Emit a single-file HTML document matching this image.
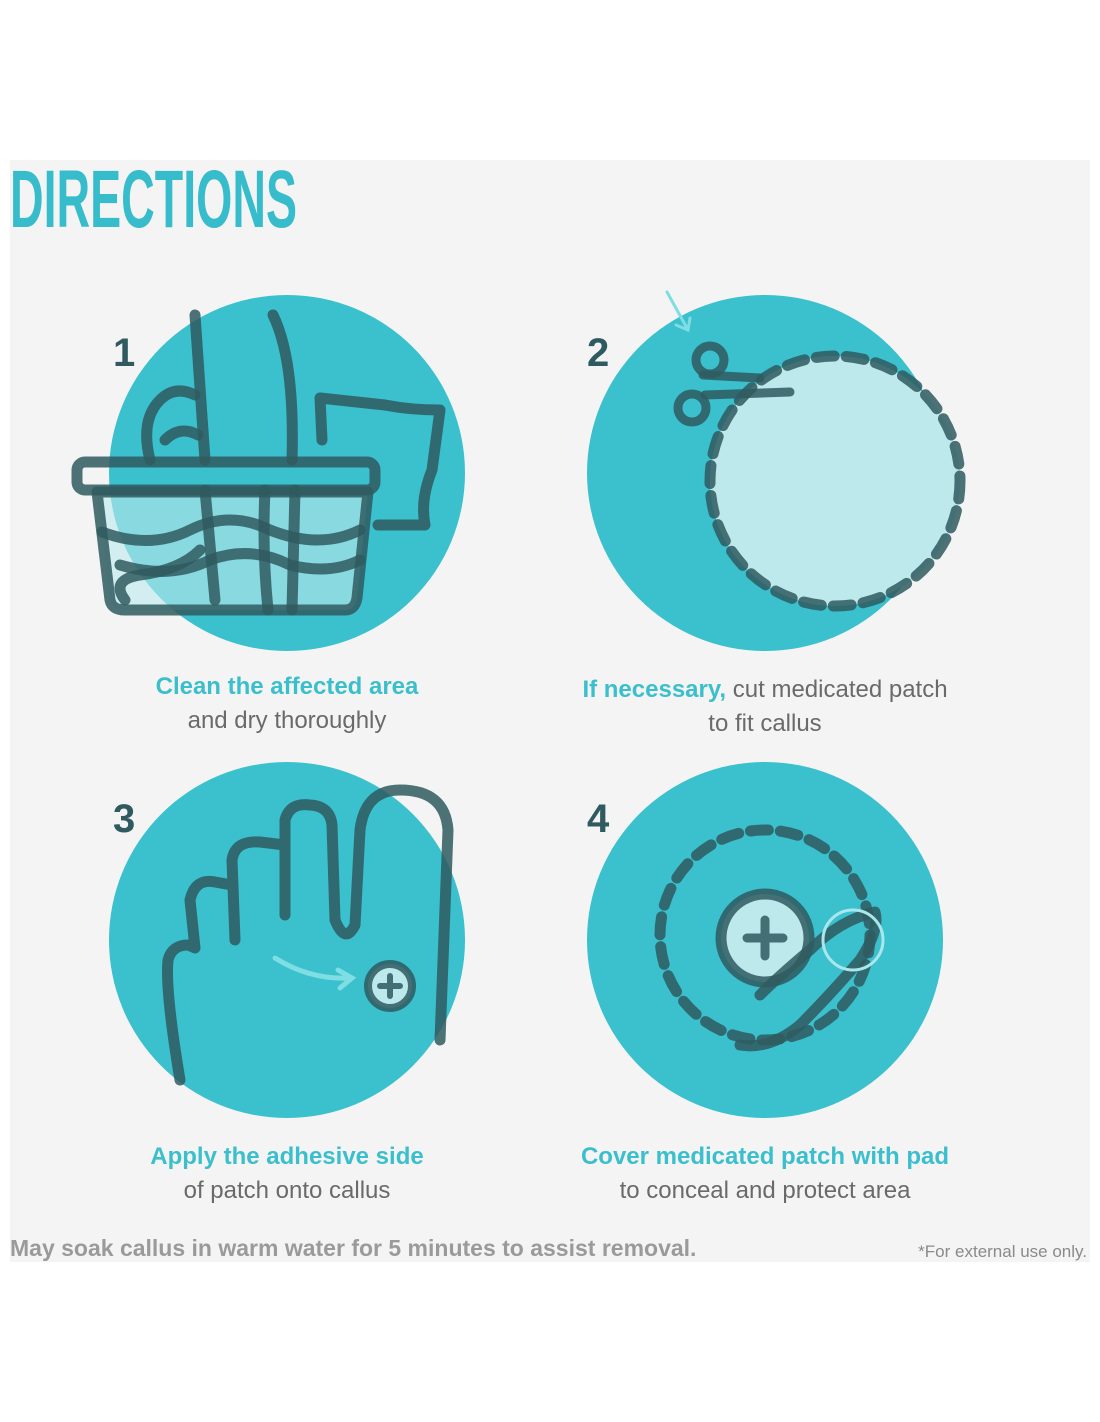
<!DOCTYPE html>
<html><head><style>body{margin:0;background:#fff}svg{display:block}</style></head><body>
<svg width="1100" height="1422" viewBox="0 0 1100 1422" xmlns="http://www.w3.org/2000/svg" font-family="Liberation Sans, sans-serif">
<rect x="10" y="160" width="1080" height="1102" fill="#f4f4f4"/>
<text x="10" y="227" font-family="Liberation Sans Narrow, Liberation Sans, sans-serif" font-weight="bold" font-size="82" fill="#37bccb" textLength="287" lengthAdjust="spacingAndGlyphs">DIRECTIONS</text>
<circle cx="287" cy="473" r="178" fill="#3bc0ce"/>
<circle cx="765" cy="473" r="178" fill="#3bc0ce"/>
<circle cx="287" cy="940" r="178" fill="#3bc0ce"/>
<circle cx="765" cy="940" r="178" fill="#3bc0ce"/>
<g font-family="Liberation Sans Narrow, Liberation Sans, sans-serif" font-weight="bold" font-size="40" fill="#2f5a5f">
<text x="113" y="366">1</text><text x="587" y="366">2</text><text x="113" y="832">3</text><text x="587" y="832">4</text></g>
<g fill="none" stroke="#2f5a5f" stroke-opacity="0.85" stroke-width="11" stroke-linecap="round" stroke-linejoin="round">
<!-- step 1 -->
<path d="M97 492 L110 600 Q112 610 125 610 L345 610 Q355 610 357 598 L368 492 Z" fill="#bde9ed" fill-opacity="0.6"/>
<rect x="77" y="462" width="298" height="28" rx="8"/>
<path d="M195 315 L205 460 M273 315 Q295 360 292 460"/>
<path d="M150 460 Q140 420 160 400 Q175 385 195 395 M165 440 Q180 425 198 435"/>
<path d="M322 440 L320 398 L385 405 Q410 410 440 410 L432 470 Q420 500 425 525 L378 525"/>
<path d="M102 532 Q150 550 190 530 Q230 510 270 530 Q320 550 360 530 M120 565 Q170 580 210 560 Q250 545 290 565 Q330 575 360 560"/>
<path d="M205 490 L215 600 M265 490 Q262 550 268 610 M295 490 L292 610"/>
<path d="M125 600 Q110 580 140 575 Q180 570 200 550"/>
<!-- step 2 -->
<circle cx="835" cy="481" r="125" fill="#bde9ed" stroke="none"/>
<circle cx="835" cy="481" r="125" stroke-dasharray="18 12"/>
<circle cx="710" cy="360" r="14" stroke-width="9"/>
<circle cx="692" cy="408" r="14" stroke-width="9"/>
<path d="M705 395 L790 392 M703 375 L760 378" stroke-width="9"/>
<!-- step 3 -->
<path d="M180 1080 Q165 990 168 960 Q172 945 188 945 L195 948 M195 948 L190 900 Q195 878 215 882 L232 885 M235 940 L232 860 Q235 840 260 842 L285 845 M285 915 L285 820 Q290 802 310 805 Q330 806 332 825 L335 920 Q345 945 355 925 L360 830 Q365 790 400 790 Q445 790 448 830 L440 1040"/>
<circle cx="390" cy="986" r="22" fill="#bde9ed" stroke-width="8"/>
<path d="M390 976 V996 M380 986 H400" stroke-width="6"/>
<!-- step 4 -->
<circle cx="765" cy="935" r="105" stroke-dasharray="18 12"/>
<circle cx="765" cy="938" r="44" fill="#bde9ed"/>
<path d="M765 920 V956 M747 938 H783" stroke-width="9"/>
<path d="M760 995 Q780 975 810 950 Q840 920 875 912 Q880 930 860 960 Q830 995 800 1025 Q770 1050 740 1045"/>
</g>
<path d="M667 292 L688 330 M676 325 L688 330 L690 318" fill="none" stroke="#7fdde4" stroke-width="3" stroke-linecap="round"/>
<path d="M275 958 Q310 980 350 978 M338 970 L352 978 L340 988" fill="none" stroke="#7fdde4" stroke-width="5" stroke-linecap="round"/>
<circle cx="853" cy="940" r="30" fill="none" stroke="#a9e7ec" stroke-width="3"/>
<g font-size="24" text-anchor="middle">
<text x="287" y="694" fill="#3bbfcc" font-weight="bold">Clean the affected area</text>
<text x="287" y="728" fill="#6a6a6a">and dry thoroughly</text>
<text x="765" y="697" fill="#6a6a6a"><tspan fill="#3bbfcc" font-weight="bold">If necessary,</tspan> cut medicated patch</text>
<text x="765" y="731" fill="#6a6a6a">to fit callus</text>
<text x="287" y="1164" fill="#3bbfcc" font-weight="bold">Apply the adhesive side</text>
<text x="287" y="1198" fill="#6a6a6a">of patch onto callus</text>
<text x="765" y="1164" fill="#3bbfcc" font-weight="bold">Cover medicated patch with pad</text>
<text x="765" y="1198" fill="#6a6a6a">to conceal and protect area</text>
</g>
<text x="10" y="1256" font-size="23" font-weight="bold" fill="#9a9a9a">May soak callus in warm water for 5 minutes to assist removal.</text>
<text x="1087" y="1257" font-size="17" fill="#8a8a8a" text-anchor="end">*For external use only.</text>
</svg>
</body></html>
